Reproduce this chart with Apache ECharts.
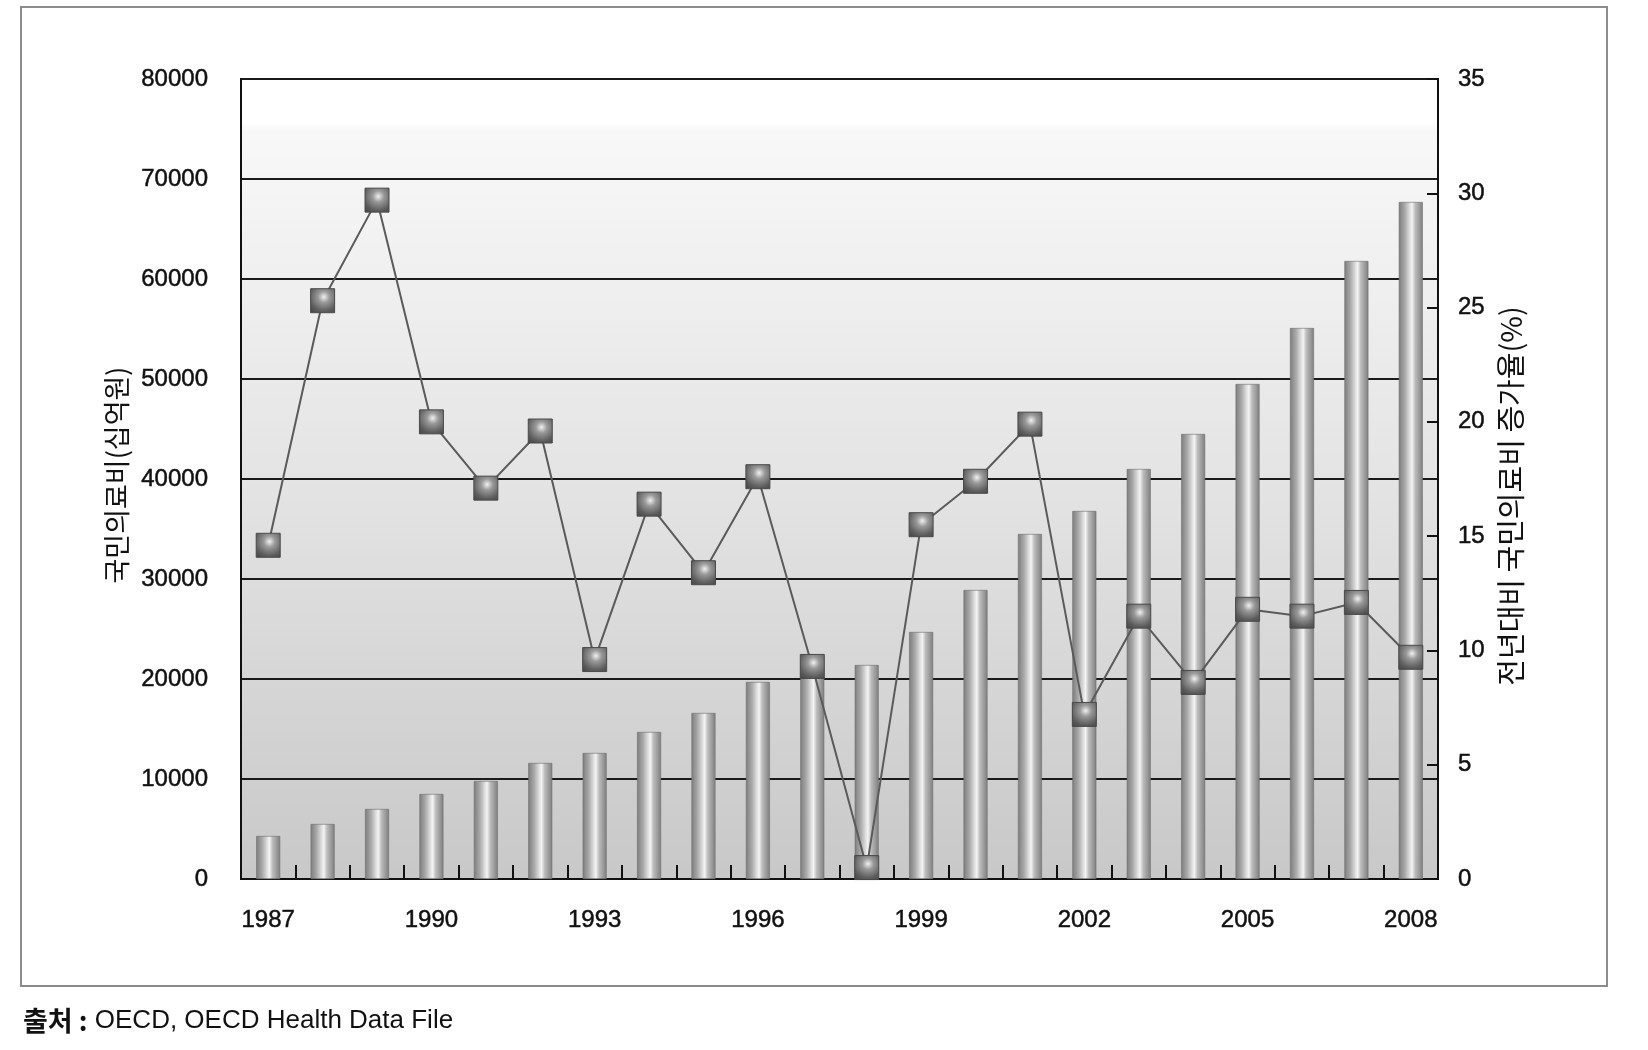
<!DOCTYPE html>
<html>
<head>
<meta charset="utf-8">
<script src="https://cdn.jsdelivr.net/npm/echarts@6/dist/echarts.min.js"></script>
<style>
html,body{margin:0;padding:0;background:#fff;}
#chart{width:1648px;height:1050px;}
</style>
</head>
<body>
<div id="chart"></div>
<script>
var years = ['1987','1988','1989','1990','1991','1992','1993','1994','1995','1996','1997','1998','1999','2000','2001','2002','2003','2004','2005','2006','2007','2008'];
var expenditure = [4300,5500,7000,8500,9800,11600,12600,14700,16600,19700,21300,21400,24700,28900,34500,36800,41000,44500,49500,55100,61800,67700];
var growthRate = [14.6,25.3,29.7,20.0,17.1,19.6,9.6,16.4,13.4,17.6,9.3,0.5,15.5,17.4,19.9,7.2,11.5,8.6,11.8,11.5,12.1,9.7];
var leftAxisName = '국민의료비(십억원)';
var rightAxisName = '전년대비 국민의료비 증가율(%)';
var sourceLabel = '출처 :';
var sourceText = ' OECD, OECD Health Data File';

var FONT = "'Liberation Sans', Arial, sans-serif";
var KFONT = "'Noto Sans CJK KR', 'Liberation Sans', sans-serif";

var chart = echarts.init(document.getElementById('chart'), null, {renderer:'canvas'});

var labelStyle = {color: '#111', fontSize: 24, fontFamily: FONT, textBorderColor: '#111', textBorderWidth: 0.5};

var option = {
  animation: false,
  backgroundColor: '#ffffff',
  grid: {
    left: 241, right: 210, top: 79, bottom: 171,
    show: true,
    borderColor: '#111',
    borderWidth: 2,
    backgroundColor: {
      type: 'linear', x: 0, y: 0, x2: 0, y2: 1,
      colorStops: [
        {offset: 0, color: '#ffffff'},
        {offset: 0.055, color: '#ffffff'},
        {offset: 0.065, color: '#f8f8f8'},
        {offset: 0.5, color: '#e4e4e4'},
        {offset: 1, color: '#c8c8c8'}
      ]
    }
  },
  xAxis: {
    type: 'category',
    data: years,
    boundaryGap: true,
    axisLine: {show: true, lineStyle: {color: '#111', width: 2}},
    axisTick: {show: true, inside: true, length: 14, interval: 0, alignWithLabel: false, lineStyle: {color: '#111', width: 2}},
    axisLabel: Object.assign({interval: 2, margin: 29}, labelStyle)
  },
  yAxis: [
    {
      type: 'value',
      min: 0, max: 80000, interval: 10000,
      position: 'left',
      name: leftAxisName,
      nameLocation: 'middle',
      nameRotate: 90,
      nameGap: 108,
      nameTextStyle: {color: '#111', fontSize: 27, fontFamily: KFONT, padding: [0, 0, 0, 8]},
      axisLine: {show: true, lineStyle: {color: '#111', width: 2}},
      axisTick: {show: false},
      axisLabel: Object.assign({margin: 33, formatter: function (v) { return String(v); }}, labelStyle),
      splitLine: {show: true, lineStyle: {color: '#1a1a1a', width: 2}}
    },
    {
      type: 'value',
      min: 0, max: 35, interval: 5,
      position: 'right',
      name: rightAxisName,
      nameLocation: 'middle',
      nameRotate: 90,
      nameGap: 58,
      nameTextStyle: {color: '#111', fontSize: 29, fontFamily: KFONT, padding: [0, 34, 0, 0]},
      axisLine: {show: true, lineStyle: {color: '#111', width: 2}},
      axisTick: {show: true, inside: true, length: 11, lineStyle: {color: '#111', width: 2}},
      axisLabel: Object.assign({margin: 20, formatter: function (v) { return String(v); }}, labelStyle),
      splitLine: {show: false}
    }
  ],
  series: [
    {
      type: 'bar',
      yAxisIndex: 0,
      data: expenditure,
      barWidth: 24,
      z: 2,
      itemStyle: {
        borderColor: '#6f6f6f',
        borderWidth: 0.6,
        color: {
          type: 'linear', x: 0, y: 0, x2: 1, y2: 0,
          colorStops: [
            {offset: 0, color: '#7c7c7c'},
            {offset: 0.25, color: '#a9a9a9'},
            {offset: 0.45, color: '#dcdcdc'},
            {offset: 0.55, color: '#f4f4f4'},
            {offset: 0.68, color: '#bdbdbd'},
            {offset: 1, color: '#7e7e7e'}
          ]
        }
      }
    },
    {
      type: 'line',
      yAxisIndex: 1,
      data: growthRate,
      z: 5,
      symbol: 'rect',
      symbolSize: 24,
      showSymbol: true,
      lineStyle: {color: '#5a5a5a', width: 2},
      itemStyle: {
        borderColor: '#4a4a4a',
        borderWidth: 1,
        color: {
          type: 'radial', x: 0.55, y: 0.35, r: 0.75,
          colorStops: [
            {offset: 0, color: '#f0f0f0'},
            {offset: 0.3, color: '#9a9a9a'},
            {offset: 0.75, color: '#5e5e5e'},
            {offset: 1, color: '#4a4a4a'}
          ]
        }
      }
    }
  ],
  graphic: [
    {
      type: 'rect',
      shape: {x: 21, y: 7, width: 1586, height: 979},
      style: {fill: 'none', stroke: '#8c8c8c', lineWidth: 2},
      silent: true,
      z: -1
    },
    {
      type: 'text',
      left: 23,
      top: 1007,
      style: {
        text: '{b|' + sourceLabel + '}{n|' + sourceText + '}',
        rich: {
          b: {fontFamily: KFONT, fontWeight: 'bold', fontSize: 27, fill: '#111'},
          n: {fontFamily: FONT, fontSize: 26, fill: '#111'}
        }
      }
    }
  ]
};
chart.setOption(option);
</script>
</body>
</html>
